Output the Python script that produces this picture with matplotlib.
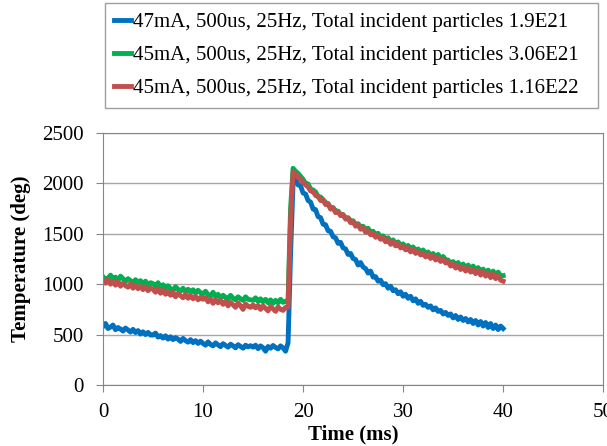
import numpy as np
import matplotlib
matplotlib.use("Agg")
import matplotlib.pyplot as plt

plt.rcParams['font.family'] = ['Liberation Serif', 'DejaVu Serif']

# sample step of the traces, ms
dt = 0.25

labels = [
    "47mA, 500us, 25Hz, Total incident particles 1.9E21",
    "45mA, 500us, 25Hz, Total incident particles 3.06E21",
    "45mA, 500us, 25Hz, Total incident particles 1.16E22",
]
colors = ["#0070C0", "#00B050", "#C0504D"]

# --- 47mA trace (deg), t = 0 .. 40 ms ---
temp_47 = [
    # 0 - 4.75
    580, 610, 560, 575, 595, 548, 570, 555, 535, 565, 545, 525, 552, 520, 540, 505, 528, 500, 522, 495,
    # 5 - 9.75
    495, 515, 475, 490, 465, 488, 455, 478, 450, 470, 455, 432, 462, 440, 425, 450, 420, 440, 412, 435,
    # 10 - 14.75
    412, 395, 428, 402, 388, 418, 398, 380, 410, 392, 375, 405, 388, 368, 400, 382, 365, 395, 378, 390,
    # 15 - 18.25
    375, 395, 360, 388, 370, 335, 382, 365, 392, 372, 358, 388, 368, 335,
    # 18.5 - 19.25 pulse
    420, 1300, 2000, 2045,
    # 19.5 - 40
    1985, 1975, 1905, 1895, 1830, 1815, 1745, 1740, 1670, 1660,
    1595, 1590, 1530, 1525, 1470, 1460, 1405, 1415, 1360, 1350,
    1295, 1305, 1255, 1245, 1190, 1215, 1170, 1155, 1110, 1130,
    1070, 1075, 1030, 1040, 995, 1005, 960, 980, 935, 945,
    905, 925, 880, 900, 860, 880, 835, 855, 810, 830,
    790, 800, 770, 785, 745, 765, 730, 740, 705, 720,
    690, 705, 665, 690, 650, 675, 640, 660, 625, 650,
    610, 640, 595, 630, 585, 620, 570, 610, 560, 595,
    550, 585, 560,
]

# --- 45mA, 3.06E21 trace ---
temp_45a = [
    1075, 1045, 1060, 1090, 1050, 1070, 1035, 1080, 1055, 1025, 1055, 1035, 1010, 1045, 1020, 1035, 1000, 1030, 990, 1015,
    1005, 980, 1015, 970, 995, 960, 985, 955, 940, 975, 950, 930, 960, 925, 950, 920, 945, 910, 940, 915,
    905, 930, 895, 885, 920, 875, 900, 865, 890, 870, 855, 890, 860, 845, 875, 855, 840, 875, 850, 845,
    840, 865, 830, 855, 825, 850, 815, 845, 810, 840, 815, 850, 820, 830,
    840, 1750, 2150, 2120,
    2100, 2070, 2040, 2000, 1995, 1945, 1935, 1915, 1870, 1865,
    1840, 1810, 1800, 1760, 1760, 1725, 1725, 1690, 1690, 1655,
    1660, 1625, 1630, 1590, 1600, 1570, 1575, 1540, 1555, 1515,
    1525, 1490, 1505, 1465, 1480, 1450, 1460, 1420, 1440, 1400,
    1420, 1385, 1400, 1365, 1385, 1345, 1370, 1330, 1350, 1315,
    1340, 1300, 1320, 1285, 1305, 1265, 1295, 1250, 1275, 1240,
    1240, 1200, 1225, 1185, 1215, 1170, 1200, 1160, 1190, 1150,
    1180, 1140, 1165, 1125, 1150, 1110, 1140, 1100, 1130, 1090,
    1120, 1080, 1085,
]

# --- 45mA, 1.16E22 trace ---
temp_45b = [
    1035, 1010, 1045, 1000, 1030, 990, 1025, 980, 1010, 985, 970, 1005, 960, 990, 955, 980, 945, 975, 935, 960,
    950, 920, 955, 910, 940, 900, 925, 890, 920, 875, 910, 885, 865, 900, 860, 885, 855, 880, 845, 870,
    850, 865, 825, 855, 810, 845, 815, 840, 800, 830, 785, 820, 795, 770, 815, 785, 750, 805, 780, 770,
    795, 765, 790, 750, 785, 760, 735, 780, 755, 730, 775, 750, 740, 770,
    770, 1650, 2110, 2090,
    2060, 2040, 2010, 1985, 1965, 1925, 1920, 1880, 1870, 1830,
    1835, 1790, 1795, 1745, 1755, 1710, 1720, 1680, 1690, 1645,
    1655, 1610, 1620, 1575, 1590, 1545, 1560, 1515, 1530, 1490,
    1505, 1465, 1480, 1445, 1460, 1420, 1440, 1395, 1420, 1380,
    1400, 1360, 1375, 1340, 1360, 1320, 1345, 1305, 1325, 1290,
    1310, 1270, 1295, 1255, 1280, 1240, 1265, 1225, 1250, 1210,
    1220, 1180, 1200, 1160, 1185, 1145, 1170, 1130, 1160, 1120,
    1145, 1105, 1135, 1090, 1125, 1080, 1110, 1065, 1100, 1055,
    1085, 1040, 1030,
]

series = [temp_47, temp_45a, temp_45b]

fig = plt.figure(figsize=(6.07, 4.46), dpi=100)
ax = fig.add_axes([0.1697, 0.1368, 0.824, 0.565])

lines = []
for vals, c, lab in zip(series, colors, labels):
    t = np.arange(len(vals)) * dt
    ln, = ax.plot(t, vals, color=c, lw=3.5, label=lab, solid_joinstyle='round')
    lines.append(ln)

ax.set_xlim(0, 50)
ax.set_ylim(0, 2500)
ax.set_xticks([0, 10, 20, 30, 40, 50])
ax.set_yticks(np.arange(0, 2501, 500))
ax.yaxis.grid(True, color="#a6a6a6", lw=1.0)
ax.set_axisbelow(True)
for s in ax.spines.values():
    s.set_color("#868686")
ax.tick_params(direction="out", length=5, color="#868686", labelsize=15)
ax.tick_params(axis="y", pad=9)
ax.tick_params(axis="x", pad=8)
ax.set_xlabel("Time (ms)", fontsize=15, fontweight="bold", labelpad=2)
ax.set_ylabel("Temperature (deg)", fontsize=15, fontweight="bold", labelpad=8)

leg = fig.legend(handles=lines, loc="upper left",
                 bbox_to_anchor=(105 / 607, 1 - 3 / 446, 493 / 607, 0),
                 mode="expand",
                 fontsize=15, frameon=True, fancybox=False,
                 handlelength=0.8, handletextpad=0.1, labelspacing=0.65,
                 borderpad=0.45, borderaxespad=0)
leg.get_frame().set_edgecolor("#868686")
leg.get_frame().set_linewidth(1.0)

fig.savefig("out.png", dpi=100)
